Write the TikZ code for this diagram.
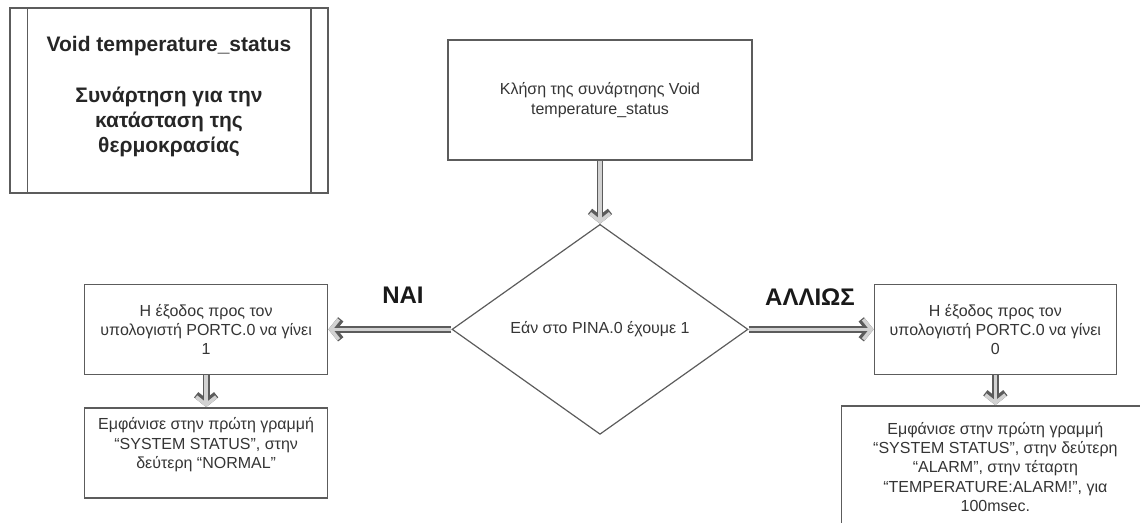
\documentclass[tikz,border=0pt]{standalone}
\usepackage{fontspec}
\setmainfont{Liberation Sans}
\usepackage{xcolor}
\usepackage{tikz}
\usetikzlibrary{shapes.geometric, arrows.meta, positioning}
\definecolor{edge}{HTML}{5C5C5C}
\definecolor{shaft}{HTML}{D2D2D2}
\definecolor{ink}{HTML}{353535}
\tikzset{
    block/.style={rectangle, draw=edge, line width=1.5pt, fill=white, align=center, text=ink, inner sep=0pt, font=\fontsize{16}{19.3}\selectfont},
    title/.style={rectangle, draw=edge, line width=1.5pt, align=center, text=black!85, inner sep=0pt, font=\fontsize{21}{25}\selectfont\bfseries, minimum width=318pt, minimum height=185pt},
    decision/.style={diamond, draw=edge, line width=1.2pt, align=center, text=ink, inner sep=0pt, minimum width=296pt, minimum height=210pt, font=\fontsize{16}{19.3}\selectfont},
    label/.style={font=\fontsize{24}{28}\selectfont\bfseries, text=black!90},
    arrow/.style={draw=shaft, line width=3.6pt, -{Straight Barb[length=8pt, width=20pt]},
        preaction={draw=edge, line width=6.8pt, -{Straight Barb[length=8pt, width=20pt]}}},
}

\begin{document}
\begin{tikzpicture}[x=1pt, y=-1pt]
    \useasboundingbox (0,0) rectangle (1140,522);
    \clip (0,0) rectangle (1140,522);

    \node[title] (title) at (169,100.5) {Void temperature\_status\\[26pt]Συνάρτηση για την\\κατάσταση της\\θερμοκρασίας\\[-12pt]\mbox{}};
    \draw[edge, line width=1.5pt] ([xshift=18pt]title.north west) -- ([xshift=18pt]title.south west);
    \draw[edge, line width=1.5pt] ([xshift=-18pt]title.north east) -- ([xshift=-18pt]title.south east);

    \node[block, minimum width=304pt, minimum height=120pt] (call) at (600,100) {Κλήση της συνάρτησης Void\\temperature\_status};

    \node[decision, below=63pt of call] (check) {Εάν στο PINA.0 έχουμε 1};

    \node[block, left=123pt of check, minimum width=243pt, minimum height=90pt] (yesport) {Η έξοδος προς τον\\υπολογιστή PORTC.0 να γίνει\\1};

    \node[block, right=125pt of check, minimum width=242pt, minimum height=90pt] (noport) {Η έξοδος προς τον\\υπολογιστή PORTC.0 να γίνει\\0};

    \node[block, below=32pt of yesport, minimum width=243pt, minimum height=90pt] (yesmsg) {Εμφάνισε στην πρώτη γραμμή\\“SYSTEM STATUS”, στην\\δεύτερη “NORMAL”\\\mbox{}};

    \node[block, below=30pt of noport, minimum width=308pt, minimum height=122pt] (nomsg) {Εμφάνισε στην πρώτη γραμμή\\“SYSTEM STATUS”, στην δεύτερη\\“ALARM”, στην τέταρτη\\“TEMPERATURE:ALARM!”, για\\100msec.};

    \node[label] (yes) at (403,295) {ΝΑΙ};
    \node[label] (no) at (810,297) {ΑΛΛΙΩΣ};

    \draw[arrow] (call) -- (check);
    \draw[arrow] (check) -- (yesport);
    \draw[arrow] (check) -- (noport);
    \draw[arrow] (yesport) -- (yesmsg);
    \draw[arrow] (noport) -- (nomsg);
\end{tikzpicture}
\end{document}
